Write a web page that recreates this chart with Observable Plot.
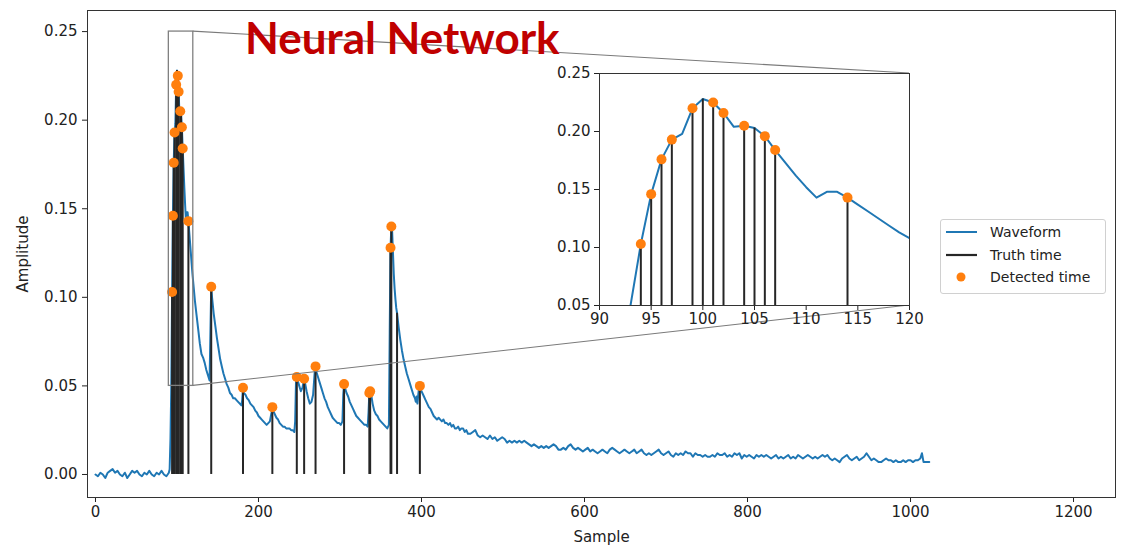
<!DOCTYPE html>
<html>
<head>
<meta charset="utf-8">
<script src="https://cdn.jsdelivr.net/npm/d3@7"></script>
<script src="https://cdn.jsdelivr.net/npm/@observablehq/plot@0.6"></script>
<style>
  html, body { margin: 0; padding: 0; background: #fff; }
  #root { position: relative; width: 1127px; height: 546px; overflow: hidden; background: #fff; font-family: "DejaVu Sans", sans-serif; }
  #root > * { position: absolute; }
  .legend { left: 940px; top: 219px; width: 166px; height: 75px; border: 1px solid #d0d0d0; border-radius: 3px; background: #fff; font-size: 14px; color: #222; box-sizing: border-box; }
  .legend .row { position: absolute; left: 0; height: 20px; display: flex; align-items: center; }
  .legend .row span { position: absolute; left: 49px; white-space: nowrap; }
</style>
</head>
<body>
<div id="root"></div>
<script>
// ---------------- DATA ----------------
const waveSample = [
  0,3,6,9,12,15,18,21,24,27,30,33,36,39,42,45,48,51,54,57,60,63,66,69,72,75,78,81,84,87,90,91,92,93,
  94,95,96,97,98,99,100,101,102,103,104,105,106,107,108,109,110,111,112,113,114,115,116,117,118,119,120,
  122,124,126,128,130,132,134,136,138,140,141,142,143,145,147,149,151,153,155,157,159,161,163,165,167,169,171,173,175,177,179,180,181,182,
  184,186,188,190,192,194,196,198,200,202,204,206,208,210,212,214,216,217,218,220,222,224,226,228,230,232,234,236,238,240,242,244,245,246,247,248,
  250,252,254,256,257,259,261,263,265,267,269,270,271,273,275,277,279,281,283,285,287,289,291,293,295,297,299,301,303,304,305,306,
  308,310,312,314,316,318,320,322,324,326,328,330,332,334,335,336,337,338,340,342,344,346,348,350,352,354,356,358,360,361,362,363,364,365,366,367,368,369,370,
  372,374,376,378,380,382,384,386,388,390,392,393,394,395,396,397,398,399,401,403,405,407,409,411,413,415,417,419,421,423,425,427,429,431,433,435,437,439,441,443,445,447,449,451,453,455,457,
  460,463,466,469,472,475,478,481,484,487,490,493,496,499,502,505,508,511,514,517,520,523,526,529,532,535,538,541,544,547,550,553,556,559,562,565,568,571,574,577,580,583,586,589,592,595,598,
  601,604,607,610,613,616,619,622,625,628,631,634,637,640,643,646,649,652,655,658,661,664,667,670,673,676,679,682,685,688,691,694,697,700,703,706,709,712,715,718,721,724,727,730,733,736,739,742,745,748,
  751,754,757,760,763,766,769,772,775,778,781,784,787,790,793,796,799,802,805,808,811,814,817,820,823,826,829,832,835,838,841,844,847,850,853,856,859,862,865,868,871,874,877,880,883,886,889,892,895,898,
  901,904,907,910,913,916,919,922,925,928,931,934,937,940,943,946,949,952,955,958,961,964,967,970,973,976,979,982,985,988,991,994,997,1000,1003,1006,1009,1012,1014,1016,1019,1022,1023
];
const waveAmp = [
  0.000,-0.001,0.001,0.000,-0.002,0.001,0.002,0.003,0.001,0.002,0.000,-0.001,0.001,-0.002,0.000,0.002,0.001,0.002,0.000,-0.001,0.001,0.000,0.002,0.000,-0.001,0.001,0.000,0.002,0.000,-0.001,0.001,0.003,0.020,0.050,
  0.103,0.146,0.176,0.193,0.198,0.220,0.228,0.225,0.216,0.204,0.205,0.203,0.196,0.184,0.173,0.162,0.152,0.143,0.148,0.148,0.143,0.137,0.131,0.125,0.119,0.113,0.108,
  0.098,0.090,0.082,0.074,0.068,0.066,0.063,0.059,0.056,0.053,0.080,0.106,0.100,0.091,0.084,0.077,0.071,0.065,0.061,0.057,0.054,0.051,0.049,0.046,0.045,0.043,0.043,0.042,0.041,0.040,0.039,0.042,0.049,0.046,
  0.045,0.043,0.042,0.040,0.039,0.038,0.036,0.035,0.033,0.032,0.031,0.030,0.029,0.028,0.029,0.030,0.035,0.038,0.036,0.034,0.032,0.031,0.029,0.028,0.027,0.027,0.026,0.026,0.026,0.025,0.025,0.024,0.030,0.052,0.055,0.053,
  0.050,0.047,0.049,0.054,0.052,0.047,0.043,0.040,0.041,0.045,0.058,0.061,0.058,0.055,0.052,0.049,0.046,0.043,0.041,0.038,0.036,0.034,0.032,0.031,0.030,0.029,0.029,0.028,0.030,0.045,0.051,0.049,
  0.046,0.044,0.041,0.039,0.037,0.035,0.033,0.032,0.031,0.030,0.029,0.028,0.028,0.027,0.035,0.046,0.047,0.046,0.040,0.036,0.034,0.033,0.031,0.030,0.029,0.028,0.027,0.026,0.028,0.080,0.128,0.140,0.137,0.125,0.113,0.105,0.099,0.094,0.091,
  0.083,0.076,0.070,0.065,0.061,0.057,0.054,0.051,0.048,0.045,0.043,0.041,0.044,0.040,0.045,0.049,0.050,0.048,0.046,0.044,0.042,0.040,0.038,0.037,0.035,0.033,0.032,0.031,0.032,0.031,0.030,0.031,0.029,0.029,0.028,0.029,0.027,0.028,0.026,0.026,0.027,0.025,0.026,0.026,0.024,0.025,0.023,
  0.023,0.024,0.025,0.022,0.021,0.022,0.021,0.020,0.022,0.020,0.021,0.019,0.020,0.021,0.020,0.018,0.019,0.018,0.019,0.018,0.019,0.018,0.019,0.018,0.017,0.016,0.017,0.016,0.015,0.016,0.015,0.016,0.015,0.016,0.017,0.016,0.014,0.014,0.015,0.014,0.016,0.017,0.015,0.014,0.015,0.014,0.013,
  0.014,0.015,0.013,0.014,0.013,0.012,0.013,0.014,0.013,0.012,0.014,0.015,0.014,0.013,0.012,0.013,0.014,0.013,0.012,0.013,0.014,0.012,0.013,0.014,0.012,0.011,0.012,0.011,0.012,0.013,0.014,0.012,0.011,0.012,0.013,0.011,0.010,0.012,0.011,0.012,0.011,0.013,0.012,0.012,0.010,0.012,0.011,0.011,0.010,0.011,
  0.010,0.010,0.011,0.010,0.012,0.011,0.011,0.012,0.010,0.011,0.010,0.012,0.011,0.012,0.009,0.011,0.010,0.011,0.010,0.009,0.011,0.010,0.011,0.010,0.011,0.010,0.009,0.010,0.011,0.009,0.010,0.009,0.010,0.011,0.009,0.010,0.009,0.011,0.010,0.009,0.010,0.011,0.010,0.009,0.010,0.009,0.010,0.011,0.010,0.011,
  0.009,0.008,0.009,0.008,0.007,0.009,0.010,0.011,0.009,0.008,0.009,0.010,0.008,0.009,0.010,0.012,0.010,0.008,0.009,0.008,0.007,0.007,0.008,0.009,0.008,0.008,0.007,0.008,0.007,0.007,0.008,0.007,0.008,0.008,0.007,0.008,0.008,0.009,0.012,0.007,0.007,0.007,0.007
];

const truthTime = [94,95,96,97,99,100,101,102,104,105,106,107,114,142,181,217,247,256,270,305,336,337,362,363,370,398];
const truthAmp  = [0.103,0.146,0.176,0.193,0.220,0.228,0.225,0.216,0.205,0.203,0.196,0.184,0.143,0.106,0.049,0.038,0.055,0.054,0.061,0.051,0.046,0.047,0.128,0.140,0.091,0.050];

const detTime = [94,95,96,97,99,101,102,104,106,107,114,142,181,217,247,256,270,305,336,337,362,363,398];
const detAmp  = [0.103,0.146,0.176,0.193,0.220,0.225,0.216,0.205,0.196,0.184,0.143,0.106,0.049,0.038,0.055,0.054,0.061,0.051,0.046,0.047,0.128,0.140,0.050];

const mainXTicks = [0,200,400,600,800,1000,1200];
const mainYTicks = [0.00,0.05,0.10,0.15,0.20,0.25];
const zoomX = [90,120];
const zoomY = [0.05,0.25];
const insetXTicks = [90,95,100,105,110,115,120];
const insetYTicks = [0.05,0.10,0.15,0.20,0.25];

const titleText = "Neural Network";
const legendLabels = ["Waveform","Truth time","Detected time"];

// ---------------- BUILD ----------------
const wave = waveSample.map((s,i) => ({s, a: waveAmp[i]}));
const truth = truthTime.map((t,i) => ({t, a: truthAmp[i]}));
const det = detTime.map((t,i) => ({t, a: detAmp[i]}));

const BLUE = "#1f77b4", ORANGE = "#ff7f0e", BLACK = "#262626";
const root = document.getElementById("root");

const W = 1127, H = 546;
const mL = 87, mR = 12, mT = 10, mB = 49;
const xDom = [-9.8, 1251.5], yDom = [-0.013, 0.2619];
const FONT = {fontFamily: "DejaVu Sans, sans-serif", fontSize: "15px", color: "#222", background: "transparent"};

const main = Plot.plot({
  width: W, height: H,
  marginLeft: mL, marginRight: mR, marginTop: mT, marginBottom: mB,
  style: FONT,
  x: {domain: xDom},
  y: {domain: yDom},
  marks: [
    Plot.line(wave, {x: "s", y: "a", stroke: BLUE, strokeWidth: 2}),
    Plot.ruleX(truth, {x: "t", y1: 0, y2: "a", stroke: BLACK, strokeWidth: 2}),
    Plot.dot(det, {x: "t", y: "a", r: 5, fill: ORANGE, stroke: "none"}),
    Plot.rect([0], {x1: zoomX[0], x2: zoomX[1], y1: zoomY[0], y2: zoomY[1], fill: "none", stroke: "#808080", strokeWidth: 1.3}),
    Plot.axisX({ticks: mainXTicks, tickSize: 5, tickPadding: 4, tickFormat: d => String(d), label: "Sample", labelAnchor: "center", labelOffset: 44, labelArrow: "none"}),
    Plot.axisY({ticks: mainYTicks, tickSize: 5, tickPadding: 5, tickFormat: d => d.toFixed(2), label: "Amplitude", labelAnchor: "center", labelOffset: 70, labelArrow: "none"}),
    Plot.frame({stroke: "#333", strokeWidth: 1})
  ]
});
main.style.left = "0px"; main.style.top = "0px";
root.appendChild(main);

// Inset
const iL = 44, iR = 24, iT = 10, iB = 30;
const iFrameLeft = 599, iFrameTop = 73, iFrameW = 310, iFrameH = 232;
const inset = Plot.plot({
  width: iL + iFrameW + iR, height: iT + iFrameH + iB,
  marginLeft: iL, marginRight: iR, marginTop: iT, marginBottom: iB,
  style: FONT,
  x: {domain: zoomX},
  y: {domain: zoomY},
  marks: [
    Plot.rect([0], {x1: zoomX[0], x2: zoomX[1], y1: zoomY[0], y2: zoomY[1], fill: "#fff"}),
    Plot.line(wave.filter(d => d.s >= 85 && d.s <= 126), {x: "s", y: "a", stroke: BLUE, strokeWidth: 2, clip: true}),
    Plot.ruleX(truth.filter(d => d.t >= zoomX[0] && d.t <= zoomX[1]), {x: "t", y1: zoomY[0], y2: "a", stroke: BLACK, strokeWidth: 2}),
    Plot.dot(det.filter(d => d.t >= zoomX[0] && d.t <= zoomX[1]), {x: "t", y: "a", r: 5, fill: ORANGE, stroke: "none"}),
    Plot.axisX({ticks: insetXTicks, tickSize: 5, tickPadding: 3, tickFormat: d => String(d), label: null}),
    Plot.axisY({ticks: insetYTicks, tickSize: 5, tickPadding: 4, tickFormat: d => d.toFixed(2), label: null}),
    Plot.frame({stroke: "#333", strokeWidth: 1})
  ]
});
inset.style.left = (iFrameLeft - iL) + "px";
inset.style.top = (iFrameTop - iT) + "px";

// Overlay: connectors + title
const sx = d3.scaleLinear(xDom, [mL, W - mR]);
const sy = d3.scaleLinear(yDom, [H - mB, mT]);
const ns = "http://www.w3.org/2000/svg";
const ov = document.createElementNS(ns, "svg");
ov.setAttribute("width", W); ov.setAttribute("height", H);
ov.style.left = "0px"; ov.style.top = "0px";
const conn = [
  [sx(zoomX[1]), sy(zoomY[1]), iFrameLeft + iFrameW, iFrameTop],
  [sx(zoomX[1]), sy(zoomY[0]), iFrameLeft + iFrameW, iFrameTop + iFrameH]
];
for (const [x1,y1,x2,y2] of conn) {
  const l = document.createElementNS(ns, "line");
  l.setAttribute("x1", x1); l.setAttribute("y1", y1);
  l.setAttribute("x2", x2); l.setAttribute("y2", y2);
  l.setAttribute("stroke", "#7a7a7a"); l.setAttribute("stroke-width", "1.1");
  ov.appendChild(l);
}
const t = document.createElementNS(ns, "text");
t.setAttribute("x", 245); t.setAttribute("y", 54);
t.setAttribute("font-family", "Lato, 'Open Sans', sans-serif");
t.setAttribute("font-weight", "bold");
t.setAttribute("font-size", "44");
t.setAttribute("fill", "#C00000");
t.textContent = titleText;
ov.appendChild(t);
root.appendChild(ov);
root.appendChild(inset);

// Legend
const lg = document.createElement("div");
lg.className = "legend";
const swatches = [
  `<svg width="36" height="20"><line x1="5" x2="36" y1="10" y2="10" stroke="${BLUE}" stroke-width="2"/></svg>`,
  `<svg width="36" height="20"><line x1="5" x2="36" y1="10" y2="10" stroke="${BLACK}" stroke-width="2.2"/></svg>`,
  `<svg width="36" height="20"><circle cx="20" cy="10" r="4.5" fill="${ORANGE}"/></svg>`
];
legendLabels.forEach((lab, i) => {
  const r = document.createElement("div");
  r.className = "row";
  r.style.top = (2 + i * 22.5) + "px";
  r.innerHTML = swatches[i] + `<span>${lab}</span>`;
  lg.appendChild(r);
});
root.appendChild(lg);
</script>
</body>
</html>
